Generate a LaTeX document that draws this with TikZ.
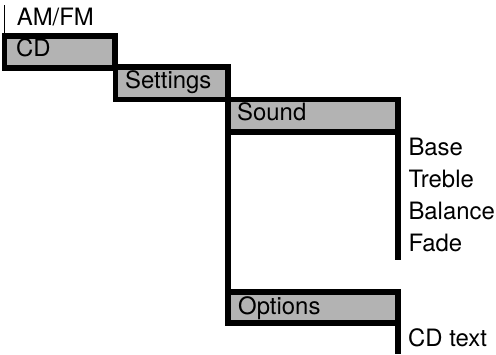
\documentclass[tikz,border=0pt]{standalone}
\usepackage{fontspec}
\setmainfont{TeX Gyre Heros}
\definecolor{boxgray}{RGB}{179,179,179}
\begin{document}
\begin{tikzpicture}[x=1pt,y=-1pt,
  box/.style={draw=black, fill=boxgray, line width=5.6pt, rectangle, inner sep=0pt, outer sep=0pt},
  lbl/.style={anchor=base west, inner sep=0pt, font=\fontsize{23.9}{28}\selectfont},
  bar/.style={line width=5.6pt, line cap=butt},
  thinbar/.style={line width=1.3pt}]
\useasboundingbox (0,0) rectangle (496,354);
% boxes
\node[box, minimum width=110.5pt, minimum height=32pt] (cd) at (59.75,52) {};
\node[box, minimum width=112.5pt, minimum height=32.5pt] (settings) at (171.75,83.25) {};
\node[box, minimum width=170pt, minimum height=32.5pt] (sound) at (313,115.75) {};
\node[box, minimum width=170pt, minimum height=31.5pt] (options) at (313,307.5) {};
% lines
\coordinate (amtop) at (4.5,5);
\coordinate (soundend) at (398,259.5);
\coordinate (optend) at (398,354);
\draw[thinbar] (cd.north west) -- (amtop);
\draw[bar] (sound.south west) -- (options.north west);
\draw[bar] (sound.south east) -- (soundend);
\draw[bar] (options.south east) -- (optend);
% labels
\node[lbl] (amfm) at (16.7,25) {AM/FM};
\node[lbl] (cdl) at (16,56.5) {CD};
\node[lbl] (setl) at (125,88.3) {Settings};
\node[lbl] (soundl) at (237,120.7) {Sound};
\node[lbl] (optl) at (238,314) {Options};
\node[lbl] (base) at (408.3,155) {Base};
\node[lbl] (treble) at (408.3,187) {Treble};
\node[lbl] (balance) at (408.3,219) {Balance};
\node[lbl] (fade) at (408.3,251) {Fade};
\node[lbl] (cdtext) at (408,346.5) {CD text};
\end{tikzpicture}
\end{document}
